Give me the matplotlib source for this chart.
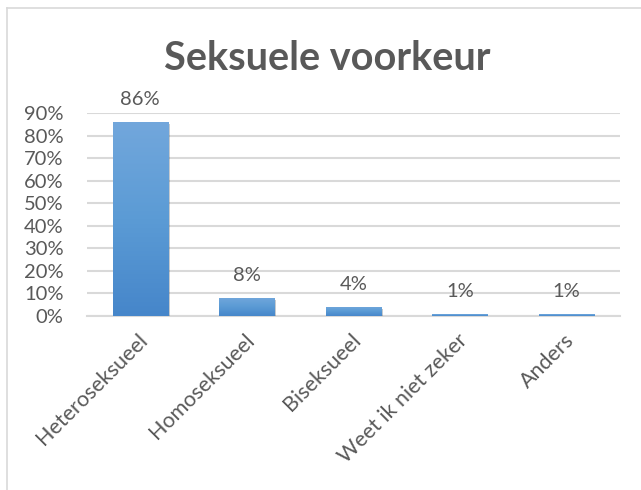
import numpy as np
import matplotlib
matplotlib.use('Agg')
import matplotlib.pyplot as plt
import matplotlib.patheffects as pe
import matplotlib.transforms as mtransforms
from matplotlib.colors import LinearSegmentedColormap
from matplotlib.lines import Line2D
from matplotlib.ticker import PercentFormatter

categories = ['Heteroseksueel', 'Homoseksueel', 'Biseksueel', 'Weet ik niet zeker', 'Anders']
percentages = [86, 8, 4, 0.8, 0.8]
yticks = [0, 10, 20, 30, 40, 50, 60, 70, 80, 90]
title = 'Seksuele voorkeur'

text_col = '#595959'
grid_col = '#D9D9D9'
plt.rcParams['font.family'] = ['Lato', 'DejaVu Sans']

W, H = 641, 490
fig = plt.figure(figsize=(W / 100, H / 100), dpi=100)
ax = fig.add_axes([87 / W, 1 - 316 / H, (620 - 87) / W, (316 - 113) / H])

x = np.arange(len(categories))
bars = ax.bar(x, percentages, width=0.52, color='#5B9BD5', zorder=3,
              path_effects=[pe.SimplePatchShadow(offset=(1.2, -1.2), alpha=0.25), pe.Normal()])

# gradient fill like the excel bars
cmap = LinearSegmentedColormap.from_list('xl', ['#4686CA', '#5B9BD5', '#72A7DC'])
grad = np.linspace(0, 1, 256).reshape(-1, 1)
for b in bars:
    im = ax.imshow(grad, cmap=cmap, origin='lower', aspect='auto', zorder=3.5,
                   extent=[b.get_x(), b.get_x() + b.get_width(), 0, b.get_height()])
    im.set_clip_path(b)

for b, v in zip(bars, percentages):
    ax.annotate('%.0f%%' % v, (b.get_x() + b.get_width() / 2, b.get_height()),
                xytext=(0, 10), textcoords='offset points', ha='center', va='bottom',
                fontsize=14.5, color=text_col, annotation_clip=False)

ax.set_xlim(-0.5, len(categories) - 0.5)
ax.set_ylim(0, 90)
ax.set_yticks(yticks)
ax.yaxis.set_major_formatter(PercentFormatter(decimals=0))
ax.set_xticks(x)
ax.set_xticklabels(categories, rotation=45, ha='right', va='center', rotation_mode='anchor')
ax.tick_params(axis='y', length=0, pad=17, labelsize=14.5, labelcolor=text_col)
ax.tick_params(axis='x', length=0, pad=15, labelsize=15.5, labelcolor=text_col)
# nudge category labels a little to the right
shift = mtransforms.ScaledTranslation(4 / 100, 0, fig.dpi_scale_trans)
for lbl in ax.get_xticklabels():
    lbl.set_transform(lbl.get_transform() + shift)
ax.grid(axis='y', color=grid_col, linewidth=1.5, zorder=0)
ax.set_axisbelow(True)
for s in ['top', 'right', 'left']:
    ax.spines[s].set_visible(False)
ax.spines['bottom'].set_color(grid_col)
ax.spines['bottom'].set_linewidth(1.5)

fig.text(327 / W, 1 - 70 / H, title, ha='center', va='baseline',
         fontsize=28.5, fontweight='bold', color=text_col)

# chart frame (left and top edges visible)
fig.add_artist(Line2D([6.5 / W, 6.5 / W], [0, 1 - 8 / H], color=grid_col, lw=1.2))
fig.add_artist(Line2D([6.5 / W, 1], [1 - 8 / H, 1 - 8 / H], color=grid_col, lw=1.2))

fig.savefig('out.png', dpi=100, facecolor='white')
